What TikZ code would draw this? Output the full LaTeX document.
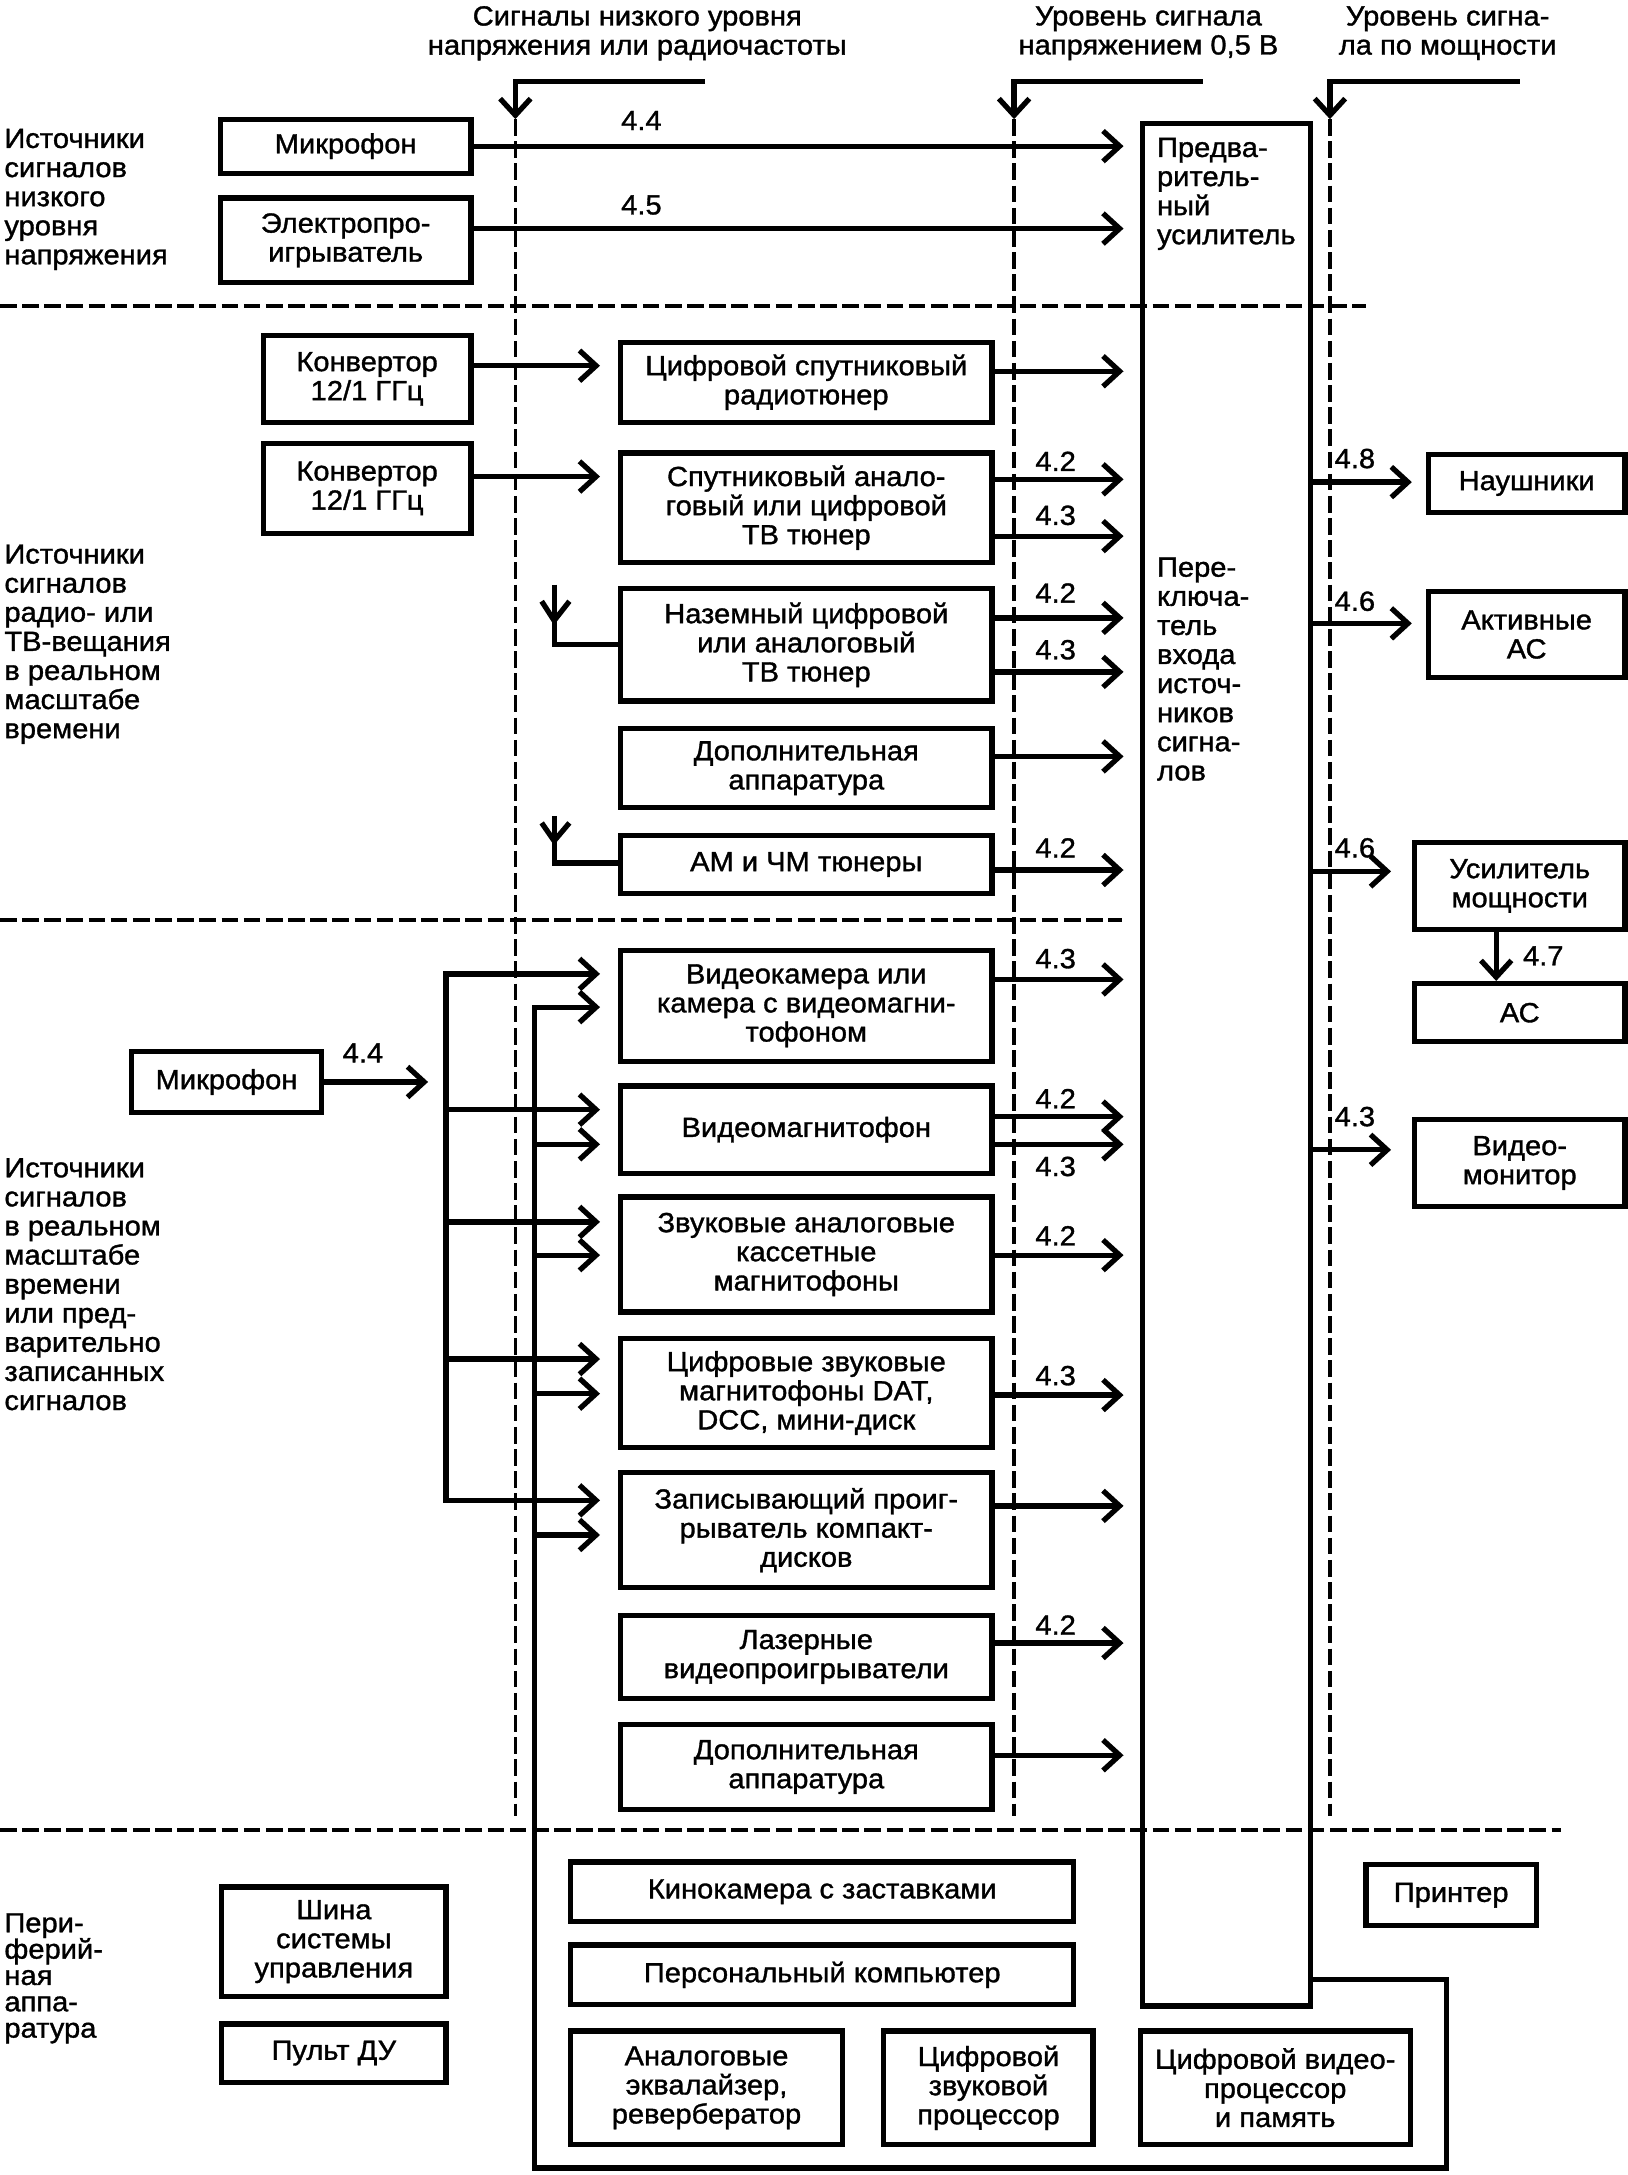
\documentclass[tikz,border=0pt]{standalone}
\usepackage{fontspec}
\setmainfont{Liberation Sans}[FakeStretch=1.05,FakeBold=1.2]
\usetikzlibrary{arrows.meta}
\newcommand\bx[6]{\node[box, minimum width={(#4)-(#2)}, minimum height={(#5)-(#3)}] (#1) at ({((#2)+(#4))/2},{((#3)+(#5))/2}) {#6};}
\newcommand\ra[2]{\draw[arr,shorten >=12pt] (#1.east |- 0,#2) -- (amp.west |- 0,#2);}
\begin{document}
\begin{tikzpicture}[x=1pt,y=-1pt,
  every node/.style={font=\fontsize{20}{21}\selectfont, inner sep=0pt},
  box/.style={draw, line width=3.8pt, align=center},
  ln/.style={line width=3.8pt},
  arr/.style={line width=3.8pt, -{Straight Barb[length=12pt,width=22pt]}},
  dsh/.style={line width=2.6pt, dash pattern=on 12pt off 4pt},
  txt/.style={align=left, anchor=west}]
\useasboundingbox (0,0) rectangle (1175,1570);

% ---- top headings
\node[align=center] (h1) at (460,24) {Сигналы низкого уровня\\напряжения или радиочастоты};
\node[align=center] (h2) at (829,24) {Уровень сигнала\\напряжением 0,5 В};
\node[align=center] (h3) at (1045,24) {Уровень сигна-\\ла по мощности};

% ---- level brackets and dashed level lines
\coordinate (t1a) at (509,59); \coordinate (t1b) at (372,86);
\coordinate (t2a) at (868,59); \coordinate (t2b) at (732,86);
\coordinate (t3a) at (1097,59); \coordinate (t3b) at (960,86);
\draw[arr] (t1a) -- (t1a -| t1b) -- (t1b);
\draw[arr] (t2a) -- (t2a -| t2b) -- (t2b);
\draw[arr] (t3a) -- (t3a -| t3b) -- (t3b);
\draw[dsh] (t1b) -- (t1b |- 0,1311);
\draw[dsh] (t2b) -- (t2b |- 0,1311);
\draw[dsh] (t3b) -- (t3b |- 0,1311);

% ---- section separators
\draw[dsh] (0,221) -- (986,221);
\draw[dsh] (0,664) -- (810,664);
\draw[dsh] (0,1321) -- (1127,1321);

% ---- left captions
\node[txt] (g1) at (3,144) {Источники\\сигналов\\низкого\\уровня\\напряжения};
\node[txt] (g2) at (3,465) {Источники\\сигналов\\радио- или\\ТВ-вещания\\в реальном\\масштабе\\времени};
\node[txt] (g3) at (3,927) {Источники\\сигналов\\в реальном\\масштабе\\времени\\или пред-\\варительно\\записанных\\сигналов};
\node[txt, font=\fontsize{20}{19}\selectfont] (g4) at (3,1428) {Пери-\\ферий-\\ная\\аппа-\\ратура};

% ---- central tall block
\node[draw, line width=3.8pt, minimum width=121pt, minimum height=1359pt, anchor=north west] (amp) at (823,87) {};
\node[txt] (pre) at (835,140) {Предва-\\ритель-\\ный\\усилитель};
\node[txt] (sw) at (835,483) {Пере-\\ключа-\\тель\\входа\\источ-\\ников\\сигна-\\лов};

% ---- boxes
\bx{mic1}{159}{86}{340}{125}{Микрофон}
\bx{elec}{159}{143}{340}{204}{Электропро-\\игрыватель}
\bx{conv1}{190}{242}{340}{305}{Конвертор\\12/1 ГГц}
\bx{conv2}{190}{320}{340}{385}{Конвертор\\12/1 ГГц}
\bx{sat}{448}{247}{716}{305}{Цифровой спутниковый\\радиотюнер}
\bx{sattv}{448}{327}{716}{406}{Спутниковый анало-\\говый или цифровой\\ТВ тюнер}
\bx{ter}{448}{425}{716}{506}{Наземный цифровой\\или аналоговый\\ТВ тюнер}
\bx{add1}{448}{526}{716}{583}{Дополнительная\\аппаратура}
\bx{am}{448}{603}{716}{645}{АМ и ЧМ тюнеры}
\bx{vcam}{448}{686}{716}{766}{Видеокамера или\\камера с видеомагни-\\тофоном}
\bx{vcr}{448}{784}{716}{847}{Видеомагнитофон}
\bx{aud}{448}{864}{716}{947}{Звуковые аналоговые\\кассетные\\магнитофоны}
\bx{dig}{448}{966}{716}{1045}{Цифровые звуковые\\магнитофоны DAT,\\DCC, мини-диск}
\bx{rec}{448}{1063}{716}{1146}{Записывающий проиг-\\рыватель компакт-\\дисков}
\bx{laser}{448}{1166}{716}{1226}{Лазерные\\видеопроигрыватели}
\bx{add2}{448}{1245}{716}{1306}{Дополнительная\\аппаратура}
\bx{mic2}{95}{759}{232}{803}{Микрофон}
\bx{head}{1031}{328}{1173}{370}{Наушники}
\bx{act}{1031}{427}{1173}{489}{Активные\\АС}
\bx{pamp}{1021}{608}{1173}{671}{Усилитель\\мощности}
\bx{as}{1021}{710}{1173}{752}{АС}
\bx{mon}{1021}{808}{1173}{871}{Видео-\\монитор}
\bx{kino}{412}{1344}{775}{1387}{Кинокамера с заставками}
\bx{pc}{412}{1404}{775}{1447}{Персональный компьютер}
\bx{eq}{412}{1466}{608}{1548}{Аналоговые\\эквалайзер,\\ревербератор}
\bx{dsp}{638}{1466}{789}{1548}{Цифровой\\звуковой\\процессор}
\bx{vproc}{823}{1466}{1018}{1548}{Цифровой видео-\\процессор\\и память}
\bx{printer}{986}{1346}{1109}{1390}{Принтер}
\bx{sbus}{160}{1362}{322}{1441}{Шина\\системы\\управления}
\bx{rc}{160}{1461}{322}{1503}{Пульт ДУ}

% ---- upper sources to preamplifier
\draw[arr,shorten >=12pt] (mic1.east) -- (amp.west |- mic1.east);
\ra{elec}{165}
\node (l44a) at (463,87) {4.4};
\node (l45) at (463,148) {4.5};

% ---- converters
\draw[arr,shorten >=13pt] (conv1.east |- 0,264) -- (sat.west |- 0,264);
\draw[arr,shorten >=13pt] (conv2.east |- 0,344) -- (sattv.west |- 0,344);

% ---- antennas
\draw[ln] (400,422) -- (400,465) -- (ter.west |- 0,465);
\draw[ln] (391,434) -- (400,448) -- (411,434);
\draw[ln] (400,589) -- (400,623) -- (am.west |- 0,623);
\draw[ln] (391,594) -- (400,607) -- (411,594);

% ---- arrows into the switch
\ra{sat}{268}
\ra{sattv}{346}
\ra{sattv}{387}
\ra{ter}{446}
\ra{ter}{485}
\ra{add1}{546}
\ra{am}{628}
\ra{vcam}{707}
\ra{vcr}{806}
\ra{vcr}{826}
\ra{aud}{906}
\ra{dig}{1007}
\ra{rec}{1087}
\ra{laser}{1186}
\ra{add2}{1267}
\node (m1) at (762,333) {4.2};
\node (m2) at (762,372) {4.3};
\node (m3) at (762,428) {4.2};
\node (m4) at (762,469) {4.3};
\node (m5) at (762,612) {4.2};
\node (m6) at (762,692) {4.3};
\node (m7) at (762,793) {4.2};
\node (m8) at (762,842) {4.3};
\node (m9) at (762,892) {4.2};
\node (m10) at (762,993) {4.3};
\node (m11) at (762,1173) {4.2};

% ---- microphone and recording buses
\draw[arr,shorten >=13pt] (mic2.east) -- (322,781);
\node (l44b) at (262,760) {4.4};
\draw[arr,shorten >=13pt] (322,900) -- (322,703) -- (vcam.west |- 0,703);
\draw[arr,shorten >=13pt] (322,880) -- (322,1083) -- (rec.west |- 0,1083);
\draw[arr,shorten >=13pt] (322,801) -- (vcr.west |- 0,801);
\draw[arr,shorten >=13pt] (322,882) -- (aud.west |- 0,882);
\draw[arr,shorten >=13pt] (322,981) -- (dig.west |- 0,981);
\draw[arr,shorten >=13pt] (amp.east |- 0,1429) -- (1044,1429) -- (1044,1565) -- (386,1565) -- (386,727) -- (vcam.west |- 0,727);
\draw[arr,shorten >=13pt] (386,826) -- (vcr.west |- 0,826);
\draw[arr,shorten >=13pt] (386,906) -- (aud.west |- 0,906);
\draw[arr,shorten >=13pt] (386,1006) -- (dig.west |- 0,1006);
\draw[arr,shorten >=13pt] (386,1108) -- (rec.west |- 0,1108);

% ---- outputs
\draw[arr,shorten >=10pt] (amp.east |- 0,348) -- (head.west |- 0,348);
\draw[arr,shorten >=10pt] (amp.east |- 0,450) -- (act.west |- 0,450);
\draw[arr,shorten >=15pt] (amp.east |- 0,629) -- (pamp.west |- 0,629);
\draw[arr,shorten >=15pt] (amp.east |- 0,830) -- (mon.west |- 0,830);
\draw[arr] (pamp.south -| 1080,0) -- (as.north -| 1080,0);
\node (r1) at (978,331) {4.8};
\node (r2) at (978,434) {4.6};
\node (r3) at (978,612) {4.6};
\node (r4) at (978,806) {4.3};
\node (r5) at (1114,690) {4.7};
\end{tikzpicture}
\end{document}
